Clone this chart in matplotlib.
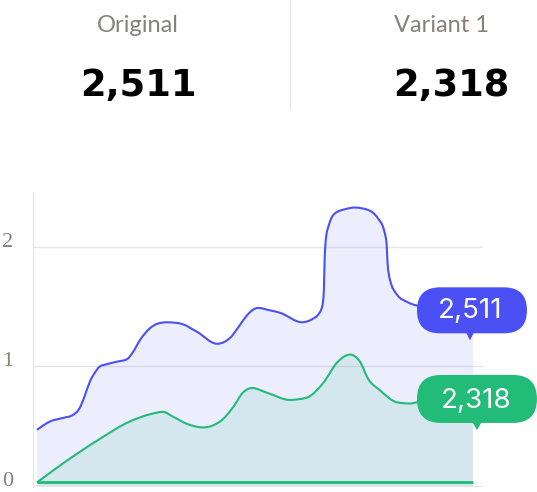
import numpy as np
import matplotlib
matplotlib.use('Agg')
import matplotlib.pyplot as plt
import matplotlib.transforms as mtransforms
from matplotlib.path import Path
from matplotlib.patches import PathPatch, FancyBboxPatch, Polygon
from matplotlib.lines import Line2D

# header numbers
names = ['Original', 'Variant 1']
totals = ['2,511', '2,318']

# series (x on a 0..100 scale, y in thousands)
x_orig = [0, 3.0, 6.0, 8.0, 9.9, 11.0, 12.2, 13.3, 14.4, 16.1, 18.3, 20.6, 22.0, 23.6,
          25.9, 27.8, 29.8, 32.8, 36.7, 41.3, 44.3, 46.6, 48.2, 50.7, 53.4, 55.7, 60.8,
          63.3, 64.4, 65.4, 65.8, 65.95, 66.3, 67.0, 68.3, 71.1, 72.9, 75.9, 78.2, 79.6,
          80.2, 80.4, 81.0, 82.6, 84.9, 87.2, 100]
y_orig = [0.47, 0.54, 0.57, 0.59, 0.66, 0.76, 0.88, 0.95, 1.00, 1.02, 1.04, 1.06, 1.12, 1.22,
          1.32, 1.36, 1.37, 1.36, 1.29, 1.19, 1.24, 1.35, 1.43, 1.49, 1.47, 1.45, 1.37,
          1.40, 1.43, 1.50, 1.64, 1.87, 2.08, 2.19, 2.28, 2.32, 2.33, 2.31, 2.24, 2.14,
          2.02, 1.87, 1.72, 1.60, 1.54, 1.51, 1.47]

x_var = [0, 6.0, 13.8, 21.3, 25.9, 28.9, 31.2, 34.4, 38.1, 42.0, 45.0, 47.2, 49.3, 52.8,
         58.0, 61.9, 65.6, 69.0, 71.8, 74.1, 75.9, 78.7, 82.6, 85.6, 87.2, 100]
y_var = [0.03, 0.19, 0.38, 0.54, 0.60, 0.62, 0.58, 0.52, 0.49, 0.54, 0.66, 0.78, 0.82, 0.78,
         0.72, 0.74, 0.86, 1.04, 1.10, 1.04, 0.90, 0.80, 0.70, 0.69, 0.70, 0.72]

yticks = [0, 1, 2]

BLUE = '#4B50F5'
GREEN = '#22BB77'
GRID = '#E6E6E8'
GRAY = '#86817B'


def monotone_path(x, y, close=False):
	# cubic bezier path with monotone-x tangents
	x = np.asarray(x, float)
	y = np.asarray(y, float)
	h = np.diff(x)
	s = np.diff(y) / h
	n = len(x)
	m = np.zeros(n)
	for i in range(1, n - 1):
		if s[i - 1] * s[i] <= 0:
			m[i] = 0
		else:
			p = (s[i - 1] * h[i] + s[i] * h[i - 1]) / (h[i - 1] + h[i])
			m[i] = (np.sign(s[i - 1]) + np.sign(s[i])) * min(abs(s[i - 1]), abs(s[i]), 0.5 * abs(p))
	m[0] = (3 * s[0] - m[1]) / 2
	m[-1] = (3 * s[-1] - m[-2]) / 2
	verts = [(x[0], y[0])]
	codes = [Path.MOVETO]
	for i in range(n - 1):
		d = h[i] / 3
		verts += [(x[i] + d, y[i] + m[i] * d), (x[i + 1] - d, y[i + 1] - m[i + 1] * d), (x[i + 1], y[i + 1])]
		codes += [Path.CURVE4] * 3
	if close:
		verts += [(x[-1], 0), (x[0], 0), (x[0], y[0])]
		codes += [Path.LINETO, Path.LINETO, Path.CLOSEPOLY]
	return Path(verts, codes)


W, H = 537, 492
fig = plt.figure(figsize=(W / 100, H / 100), dpi=100)
ax = fig.add_axes([33 / W, 5 / H, 450 / W, 295 / H])

ax.set_xlim(-0.92, 102.3)
ax.set_ylim(-0.0084, 2.46)

ax.add_patch(PathPatch(monotone_path(x_orig, y_orig, True), facecolor=BLUE, alpha=0.1, lw=0, zorder=2))
ax.add_patch(PathPatch(monotone_path(x_var, y_var, True), facecolor=GREEN, alpha=0.11, lw=0, zorder=3))
ax.add_patch(PathPatch(monotone_path(x_orig, y_orig), facecolor='none', edgecolor=BLUE, lw=1.5, zorder=4))
ax.add_patch(PathPatch(monotone_path(x_var, y_var), facecolor='none', edgecolor=GREEN, lw=1.5, zorder=4))
ax.plot([x_var[0], x_var[-1]], [y_var[0], y_var[0]], color=GREEN, lw=2, solid_capstyle='butt', zorder=4)

ax.set_yticks(yticks)
ax.set_yticklabels([str(t) for t in yticks])
ax.set_xticks([])
ax.grid(axis='y', color=GRID, lw=1)
ax.set_axisbelow(True)
ax.tick_params(axis='y', length=0, pad=18, labelsize=16, labelcolor=GRAY)
for lab in ax.get_yticklabels():
	lab.set_fontfamily('Liberation Serif')
	lab.set_horizontalalignment('center')
	lab.set_verticalalignment('baseline')
for side in ['top', 'right', 'bottom']:
	ax.spines[side].set_visible(False)
ax.spines['left'].set_color(GRID)

# end bubbles (box, pointer and text offsets in inches / pixels from the last point)
bubbles = [
	(x_orig[-1], y_orig[-1], totals[0], BLUE, (-0.56, -0.23, 1.10, 0.46),
	 [(-0.08, -0.20), (0.02, -0.20), (-0.03, -0.30)], (-3, -8)),
	(x_var[-1], y_var[-1], totals[1], GREEN, (-0.56, -0.23, 1.20, 0.48),
	 [(-0.02, -0.20), (0.10, -0.20), (0.04, -0.30)], (3, -8)),
]
for bx, by, txt, col, box, tri, toff in bubbles:
	trans = fig.dpi_scale_trans + mtransforms.ScaledTranslation(bx, by, ax.transData)
	r = box[3] / 2
	ax.add_artist(FancyBboxPatch((box[0], box[1]), box[2], box[3],
		boxstyle='round,pad=0,rounding_size=%f' % r, transform=trans, facecolor=col,
		edgecolor='none', zorder=6, clip_on=False))
	ax.add_artist(Polygon(tri, closed=True, transform=trans, facecolor=col, edgecolor='none',
		zorder=6, clip_on=False))
	ax.annotate(txt, (bx, by), xytext=toff, textcoords='offset pixels', ha='center', va='baseline',
		color='white', fontsize=20, fontfamily='Inter', fontweight='normal', zorder=7,
		annotation_clip=False)

# header
centers = [(138, 138.5), (442, 451)]
for (cx_label, cx_num), name, tot in zip(centers, names, totals):
	fig.text(cx_label / W, 1 - 32.5 / H, name, ha='center', va='baseline', fontsize=17,
		fontfamily='Lato', fontweight='normal', color=GRAY)
	fig.text(cx_num / W, 1 - 96 / H, tot, ha='center', va='baseline', fontsize=26.5,
		fontfamily='DejaVu Sans', fontweight='bold', color='black')
fig.add_artist(Line2D([289.5 / W, 289.5 / W], [1, 1 - 108 / H], color=GRID, lw=1,
	transform=fig.transFigure))

fig.savefig('out.png', dpi=100)
